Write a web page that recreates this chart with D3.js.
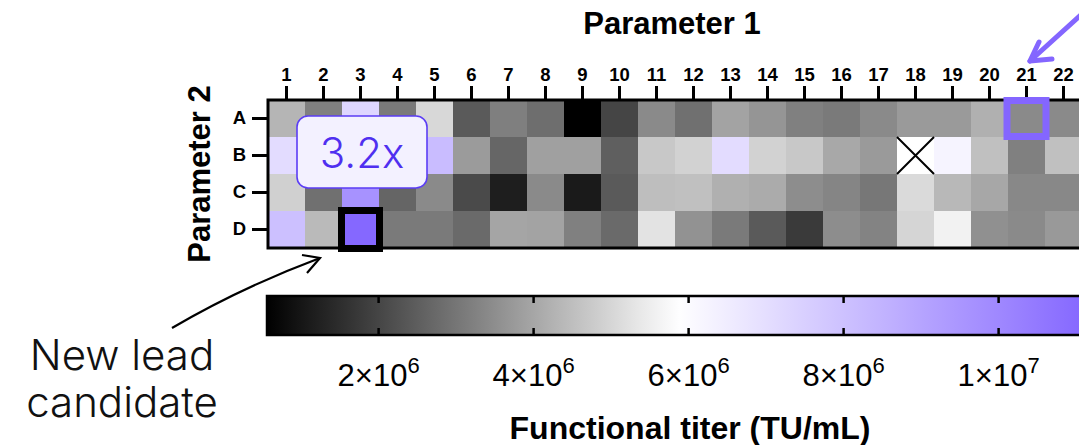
<!DOCTYPE html>
<html><head><meta charset="utf-8">
<script src="https://cdn.jsdelivr.net/npm/d3@7"></script>
<style>
html,body{margin:0;padding:0;background:#fff;overflow:hidden;}
svg{display:block;}
</style></head>
<body>
<svg id="chart" width="1079" height="445"></svg>
<script>
// ---- data ----
const columns = ["1","2","3","4","5","6","7","8","9","10","11","12","13","14","15","16","17","18","19","20","21","22"];
const rows = ["A","B","C","D"];
// functional titer in units of 1e6 TU/mL (null = missing)
const rowA = [4.31,3.22,7.28,3.09,5.04,2.43,3.19,2.84,0.56,1.99,3.42,2.88,3.94,3.65,3.22,3.09,3.42,3.75,3.75,4.21,3.42,3.42];
const rowB = [7.07,3.60,7.50,3.50,8.19,3.78,2.68,3.88,3.88,2.53,4.71,4.92,7.07,4.92,4.71,4.05,3.75,null,6.24,4.54,3.22,4.54];
const rowC = [4.87,2.88,9.63,2.66,3.42,2.10,1.18,3.42,1.10,2.43,4.50,4.54,4.21,4.11,3.49,3.32,3.03,5.08,4.38,4.02,3.38,3.38];
const rowD = [8.05,4.42,11.10,3.09,3.09,2.76,3.98,3.94,3.22,2.76,5.27,3.59,3.09,2.43,1.76,3.49,3.28,4.98,5.58,3.55,3.42,3.73];
const seriesByRow = [rowA,rowB,rowC,rowD];
const colorDomain = [0.56e6, 5.85e6, 11.2e6];
const colorStops = ["#000000","#ffffff","#8365ff"];
const colorbarTicks = [2e6,4e6,6e6,8e6,1e7];
const colorbarTickLabels = [["2×10","6"],["4×10","6"],["6×10","6"],["8×10","6"],["1×10","7"]];
const leadCell = {col:"3", row:"D"};
const originalCell = {col:"21", row:"A"};
const foldChange = "3.2x";

const cells = [];
rows.forEach((r,i)=>columns.forEach((c,j)=>{
  const v = seriesByRow[i][j];
  cells.push({row:r,col:c,value: v===null?null:v*1e6});
}));

const svg = d3.select("#chart");
const x = d3.scaleBand().domain(columns).range([268, 268+37*columns.length]);
const y = d3.scaleBand().domain(rows).range([100, 248]);
const color = d3.scaleLinear().domain(colorDomain).range(colorStops).clamp(true);

const bold = "'Liberation Sans', Arial, sans-serif";
const light = "Inter, 'Noto Sans', sans-serif";

// cells
svg.append("g").selectAll("rect").data(cells).join("rect")
  .attr("x",d=>x(d.col)).attr("y",d=>y(d.row))
  .attr("width",x.bandwidth()+0.5).attr("height",y.bandwidth()+0.5)
  .attr("fill",d=>d.value===null?"#ffffff":color(d.value));

// missing cell cross
cells.filter(d=>d.value===null).forEach(d=>{
  const x0=x(d.col), y0=y(d.row), w=x.bandwidth(), h=y.bandwidth();
  svg.append("path").attr("d",`M${x0},${y0}L${x0+w},${y0+h}M${x0+w},${y0}L${x0},${y0+h}`)
    .attr("stroke","#000").attr("stroke-width",2).attr("fill","none");
});

// border
svg.append("rect").attr("x",x.range()[0]).attr("y",y.range()[0])
  .attr("width",x.range()[1]-x.range()[0]).attr("height",y.range()[1]-y.range()[0])
  .attr("fill","none").attr("stroke","#000").attr("stroke-width",3);

// x axis
const xAxis = svg.append("g").attr("transform","translate(0,99)")
  .call(d3.axisTop(x).tickSize(13).tickPadding(5));
xAxis.select(".domain").remove();
xAxis.selectAll(".tick line").attr("stroke","#000").attr("stroke-width",3);
xAxis.selectAll(".tick text").attr("font-family",bold).attr("font-weight","bold")
  .attr("font-size",18.5).attr("fill","#000");

// y axis
const yAxis = svg.append("g").attr("transform","translate(267,0)")
  .call(d3.axisLeft(y).tickSize(15).tickPadding(6));
yAxis.select(".domain").remove();
yAxis.selectAll(".tick line").attr("stroke","#000").attr("stroke-width",3);
yAxis.selectAll(".tick text").attr("font-family",bold).attr("font-weight","bold")
  .attr("font-size",18.5).attr("fill","#000");

// titles
svg.append("text").attr("x",672).attr("y",34).attr("text-anchor","middle")
  .attr("font-family",bold).attr("font-weight","bold").attr("font-size",31).text("Parameter 1");
svg.append("text").attr("transform","translate(210,174) rotate(-90)").attr("text-anchor","middle")
  .attr("font-family",bold).attr("font-weight","bold").attr("font-size",31).text("Parameter 2");

// highlight: original
svg.append("rect").attr("x",x(originalCell.col)-1).attr("y",y(originalCell.row)+0.5)
  .attr("width",x.bandwidth()+2).attr("height",y.bandwidth()-1)
  .attr("fill","none").attr("stroke","#8466ff").attr("stroke-width",7);
// highlight: lead
svg.append("rect").attr("x",x(leadCell.col)-0.5).attr("y",y(leadCell.row)-0.5)
  .attr("width",x.bandwidth()+1).attr("height",y.bandwidth()+1)
  .attr("fill","none").attr("stroke","#000").attr("stroke-width",7);

// callout box
svg.append("rect").attr("x",297).attr("y",116).attr("width",130).attr("height",72)
  .attr("rx",11).attr("fill","#f3f1ff").attr("stroke","#5b3df5").attr("stroke-width",1.6);
svg.append("text").attr("x",362).attr("y",168).attr("text-anchor","middle")
  .attr("font-family",light).attr("font-weight",300).attr("font-size",42)
  .attr("fill","#4f2ff0").text(foldChange);

// colorbar
const cbX = d3.scaleLinear().domain([colorDomain[0],colorDomain[2]]).range([267, 267+(colorDomain[2]-colorDomain[0])/1e6*77.5]);
const defs = svg.append("defs");
const grad = defs.append("linearGradient").attr("id","cbgrad")
  .attr("gradientUnits","userSpaceOnUse").attr("x1",cbX.range()[0]).attr("x2",cbX.range()[1]).attr("y1",0).attr("y2",0);
d3.range(0,1.0001,0.05).forEach(t=>{
  const v = colorDomain[0]+t*(colorDomain[2]-colorDomain[0]);
  grad.append("stop").attr("offset",t).attr("stop-color",color(v));
});
svg.append("rect").attr("x",cbX.range()[0]).attr("y",296).attr("width",cbX.range()[1]-cbX.range()[0]).attr("height",39)
  .attr("fill","url(#cbgrad)").attr("stroke","#000").attr("stroke-width",2.5);
const cbt = svg.append("g");
colorbarTicks.forEach((t,i)=>{
  const px = cbX(t);
  cbt.append("line").attr("x1",px).attr("x2",px).attr("y1",296).attr("y2",303).attr("stroke","#000").attr("stroke-width",2.5);
  cbt.append("line").attr("x1",px).attr("x2",px).attr("y1",328).attr("y2",335).attr("stroke","#000").attr("stroke-width",2.5);
  const tx = cbt.append("text").attr("x",px).attr("y",386).attr("text-anchor","middle")
    .attr("font-family","'Liberation Sans', Arial, sans-serif").attr("font-size",31).attr("fill","#000");
  tx.append("tspan").text(colorbarTickLabels[i][0]);
  tx.append("tspan").attr("dy",-13).attr("font-size",22).text(colorbarTickLabels[i][1]);
});
svg.append("text").attr("x",690).attr("y",439).attr("text-anchor","middle")
  .attr("font-family",bold).attr("font-weight","bold").attr("font-size",32).text("Functional titer (TU/mL)");

// annotation: new lead candidate
svg.append("text").attr("x",122).attr("y",370).attr("text-anchor","middle")
  .attr("font-family",light).attr("font-weight",300).attr("font-size",42).attr("fill","#111").text("New lead");
svg.append("text").attr("x",122).attr("y",417).attr("text-anchor","middle")
  .attr("font-family",light).attr("font-weight",300).attr("font-size",42).attr("fill","#111").text("candidate");

svg.append("path").attr("d","M172,328 Q240,288 320,258").attr("fill","none").attr("stroke","#000").attr("stroke-width",2.2);
svg.append("path").attr("d","M302,255 L320,258 L307,273").attr("fill","none").attr("stroke","#000").attr("stroke-width",2.2)
  .attr("stroke-linejoin","miter");

// purple arrow at top right
svg.append("path").attr("d","M1082,14 L1030,61").attr("fill","none").attr("stroke","#8466ff").attr("stroke-width",5).attr("stroke-linecap","round");
svg.append("path").attr("d","M1039,42 L1030,61 L1052,59").attr("fill","none").attr("stroke","#8466ff").attr("stroke-width",5)
  .attr("stroke-linecap","round").attr("stroke-linejoin","round");
</script>
</body></html>
